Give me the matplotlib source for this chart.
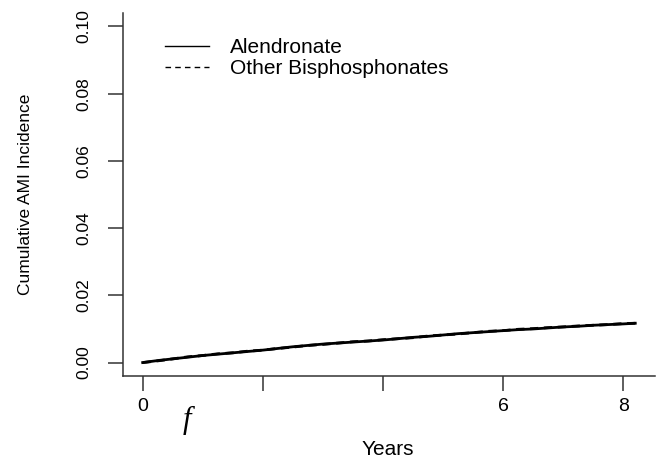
import numpy as np
import matplotlib
matplotlib.use('Agg')
import matplotlib.pyplot as plt


# Cumulative AMI incidence (years since start)

years = [0.0, 0.25, 0.5, 0.75, 1.0, 1.25, 1.5, 1.75, 2.0, 2.25, 2.5, 2.75,
         3.0, 3.25, 3.5, 3.75, 4.0, 4.25, 4.5, 4.75, 5.0, 5.25, 5.5, 5.75,
         6.0, 6.25, 6.5, 6.75, 7.0, 7.25, 7.5, 7.75, 8.0, 8.2]

alendronate = [0.0000, 0.0006, 0.0011, 0.0016, 0.0021, 0.0025, 0.0029, 0.0033,
               0.0037, 0.0042, 0.0047, 0.0051, 0.0055, 0.0058, 0.0061, 0.0064,
               0.0067, 0.0071, 0.0075, 0.0078, 0.0082, 0.0086, 0.0089, 0.0092,
               0.0095, 0.0098, 0.0100, 0.0103, 0.0106, 0.0108, 0.0111, 0.0113,
               0.0115, 0.0117]

other_bis = [0.0000, 0.0005, 0.0011, 0.0017, 0.0021, 0.0026, 0.0029, 0.0034,
             0.0037, 0.0042, 0.0046, 0.0051, 0.0054, 0.0058, 0.0062, 0.0064,
             0.0068, 0.0071, 0.0074, 0.0079, 0.0082, 0.0085, 0.0089, 0.0093,
             0.0095, 0.0099, 0.0101, 0.0104, 0.0106, 0.0109, 0.0111, 0.0113,
             0.0116, 0.0117]

xticks = [0, 2, 4, 6, 8]
xticklabels = ['0', '', '', '6', '8']
yticks = [0.00, 0.02, 0.04, 0.06, 0.08, 0.10]
yticklabels = ['0.00', '0.02', '0.04', '0.06', '0.08', '0.10']


plt.rcParams['font.family'] = ['Liberation Sans', 'DejaVu Sans']

fig = plt.figure(figsize=(6.58, 4.59), dpi=100)
ax = fig.add_axes([0.1869, 0.1808, 0.8085, 0.7909])

ax.plot(years, alendronate, color='black', lw=2.0, label='Alendronate')
ax.plot(years, other_bis, color='black', lw=2.0, ls=(0, (3, 2)),
        label='Other Bisphosphonates')

# R style: 4% padding, L-shaped box
ax.set_xlim(-0.328, 8.528)
ax.set_ylim(-0.004, 0.104)
for s in ['top', 'right']:
    ax.spines[s].set_visible(False)
for s in ['left', 'bottom']:
    ax.spines[s].set_color('#333333')
    ax.spines[s].set_linewidth(1.1)

ax.set_xticks(xticks)
ax.set_xticklabels(xticklabels, fontsize=14)
ax.set_yticks(yticks)
ax.set_yticklabels(yticklabels, fontsize=12.5, rotation=90, va='center')
ax.tick_params(axis='both', direction='out', length=10.8, width=1.1,
               color='#333333')
ax.tick_params(axis='x', pad=5)
ax.tick_params(axis='y', pad=12)

ax.set_xlabel('Years', fontsize=15)
ax.xaxis.set_label_coords(0.498, -0.175)
ax.set_ylabel('Cumulative AMI Incidence', fontsize=12.5)
ax.yaxis.set_label_coords(-0.169, 0.501)

leg = ax.legend(loc='upper left', bbox_to_anchor=(0.079, 0.93), frameon=False,
                fontsize=15, handlelength=2.1, handletextpad=1.0,
                labelspacing=0.1, borderpad=0, borderaxespad=0)
for h in leg.get_lines():
    h.set_linewidth(1.0)
leg.get_lines()[1].set_linestyle((0, (4, 3)))

fig.text(187 / 658, 1 - 420 / 459, 'f', fontsize=22, family='Liberation Serif',
         style='italic', ha='center', va='center')

plt.savefig('out.png', dpi=100)
plt.close()
